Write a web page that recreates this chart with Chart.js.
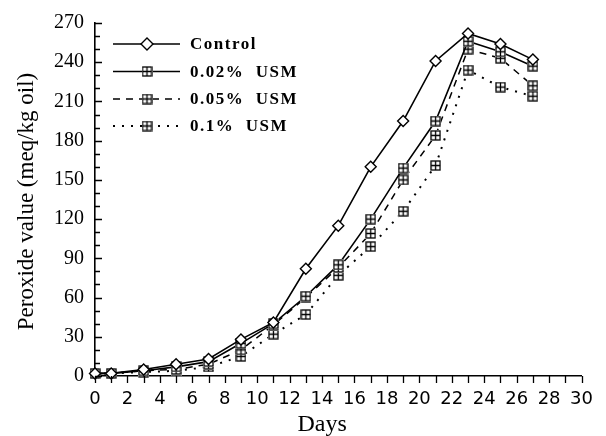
<!DOCTYPE html>
<html><head><meta charset="utf-8">
<script src="https://cdn.jsdelivr.net/npm/chart.js@4.4.1/dist/chart.umd.min.js"></script>
<style>html,body{margin:0;padding:0;background:#fff}canvas{display:block}</style>
</head><body>
<canvas id="c" width="606" height="436"></canvas>
<script>
// ---- data ----
const days      = [0, 1, 3, 5, 7, 9, 11, 13, 15, 17, 19, 21, 23, 25, 27];
const control   = [2, 2, 5, 9, 13, 28, 41, 82, 115, 160, 195, 241, 262, 254, 242];
const usm002    = [2, 2, 4, 7, 11, 25, 40, 61, 85, 120, 159, 195, 256, 248, 237];
const usm005    = [2, 2, 4, 5, 9, 20, 39, 60, 83, 109, 150, 184, 250, 243, 222];
const usm01     = [2, 2, 3, 4, 7, 15, 32, 47, 77, 99, 126, 161, 234, 221, 214];
const seriesNames = ['Control', '0.02%  USM', '0.05%  USM', '0.1%  USM'];
const xTickRange = [0, 30, 2];     // min, max, label step
const yTickRange = [0, 270, 30];
const xTitle = 'Days';
const yTitle = 'Peroxide value (meq/kg oil)';

function boxMarker() {
  const c = document.createElement('canvas');
  c.width = 11; c.height = 11;
  const g = c.getContext('2d');
  g.fillStyle = '#fff'; g.fillRect(0, 0, 11, 11);
  g.strokeStyle = '#000'; g.lineWidth = 1.3;
  g.strokeRect(1, 1, 9, 9);
  g.beginPath();
  g.moveTo(5.5, 1); g.lineTo(5.5, 10);
  g.moveTo(1, 5.5); g.lineTo(10, 5.5);
  g.stroke();
  return c;
}
const box = boxMarker();

const styles = [
  {dash: [], width: 1.6, point: 'rectRot'},
  {dash: [], width: 1.6, point: box},
  {dash: [7, 6], width: 1.5, point: box},
  {dash: [2, 7], width: 2, point: box}
];
const seriesValues = [control, usm002, usm005, usm01];

const datasets = seriesValues.map((vals, i) => ({
  label: seriesNames[i],
  data: days.map((d, k) => ({x: d, y: vals[k]})),
  borderColor: '#000',
  borderWidth: styles[i].width,
  borderDash: styles[i].dash,
  pointStyle: styles[i].point,
  pointRadius: 5.5,
  pointBorderWidth: 1.4,
  pointBackgroundColor: '#fff',
  pointBorderColor: '#000',
  tension: 0,
  clip: false,
  fill: false
}));

const axisDecor = {
  id: 'axisDecor',
  afterDraw(chart) {
    const ctx = chart.ctx;
    const xs = chart.scales.x, ys = chart.scales.y;
    const a = chart.chartArea;
    ctx.save();
    ctx.strokeStyle = '#000';
    ctx.lineWidth = 1.3;
    ctx.beginPath();
    for (let d = xTickRange[0]; d <= xTickRange[1]; d++) {
      const px = Math.round(xs.getPixelForValue(d)) + 0.5;
      ctx.moveTo(px, a.bottom); ctx.lineTo(px, a.bottom + 7);
    }
    for (let v = yTickRange[0]; v <= yTickRange[1]; v += 10) {
      const py = Math.round(ys.getPixelForValue(v)) + 0.5;
      const len = (v % 30 === 0) ? 7 : 5;
      ctx.moveTo(a.left, py); ctx.lineTo(a.left + len, py);
    }
    ctx.stroke();

    // axis titles
    ctx.fillStyle = '#000';
    ctx.font = '24px "Liberation Serif"';
    ctx.textAlign = 'center';
    ctx.textBaseline = 'alphabetic';
    ctx.fillText(xTitle, xs.getPixelForValue(14), 431);
    ctx.save();
    ctx.translate(27, (a.top + a.bottom) / 2 + 2);
    ctx.rotate(-Math.PI / 2);
    ctx.font = '23px "Liberation Serif"';
    ctx.textBaseline = 'middle';
    ctx.fillText(yTitle, 0, 0);
    ctx.restore();

    // legend
    const rows = [44, 71.5, 99, 126];
    chart.data.datasets.forEach((ds, i) => {
      const y = rows[i];
      ctx.save();
      ctx.lineWidth = ds.borderWidth;
      ctx.setLineDash(ds.borderDash);
      ctx.beginPath();
      ctx.moveTo(113, y); ctx.lineTo(180, y);
      ctx.stroke();
      ctx.setLineDash([]);
      const mx = 147;
      if (ds.pointStyle === 'rectRot') {
        ctx.fillStyle = '#fff';
        ctx.lineWidth = 1.4;
        ctx.beginPath();
        ctx.moveTo(mx - 6, y); ctx.lineTo(mx, y - 6); ctx.lineTo(mx + 6, y); ctx.lineTo(mx, y + 6);
        ctx.closePath(); ctx.fill(); ctx.stroke();
      } else {
        ctx.drawImage(ds.pointStyle, mx - 5.5, y - 5.5);
      }
      ctx.fillStyle = '#000';
      ctx.font = 'bold 17px "Liberation Serif"';
      ctx.letterSpacing = '1.5px';
      ctx.textAlign = 'left';
      ctx.textBaseline = 'middle';
      ctx.fillText(ds.label, 190, y + 1);
      ctx.restore();
    });
    ctx.restore();
  }
};

new Chart(document.getElementById('c'), {
  type: 'line',
  data: {datasets},
  options: {
    responsive: false,
    animation: false,
    devicePixelRatio: 1,
    layout: {padding: {left: 0, right: 21, top: 20, bottom: 0}},
    plugins: {legend: {display: false}, tooltip: {enabled: false}},
    scales: {
      x: {
        type: 'linear',
        min: xTickRange[0], max: xTickRange[1],
        grid: {display: false, drawTicks: false},
        border: {display: true, color: '#000', width: 1.6},
        ticks: {stepSize: xTickRange[2], autoSkip: false, maxRotation: 0, color: '#000',
                padding: 13, font: {family: '"DejaVu Sans"', size: 18}},
        afterFit(s) { s.height = 60; }
      },
      y: {
        min: yTickRange[0], max: yTickRange[1],
        grid: {display: false, drawTicks: false},
        border: {display: true, color: '#000', width: 1.6},
        ticks: {stepSize: yTickRange[2], color: '#000', padding: 11,
                font: {family: '"Liberation Serif"', size: 20}},
        afterFit(s) { s.width = 95; }
      }
    }
  },
  plugins: [axisDecor]
});
</script>
</body></html>
